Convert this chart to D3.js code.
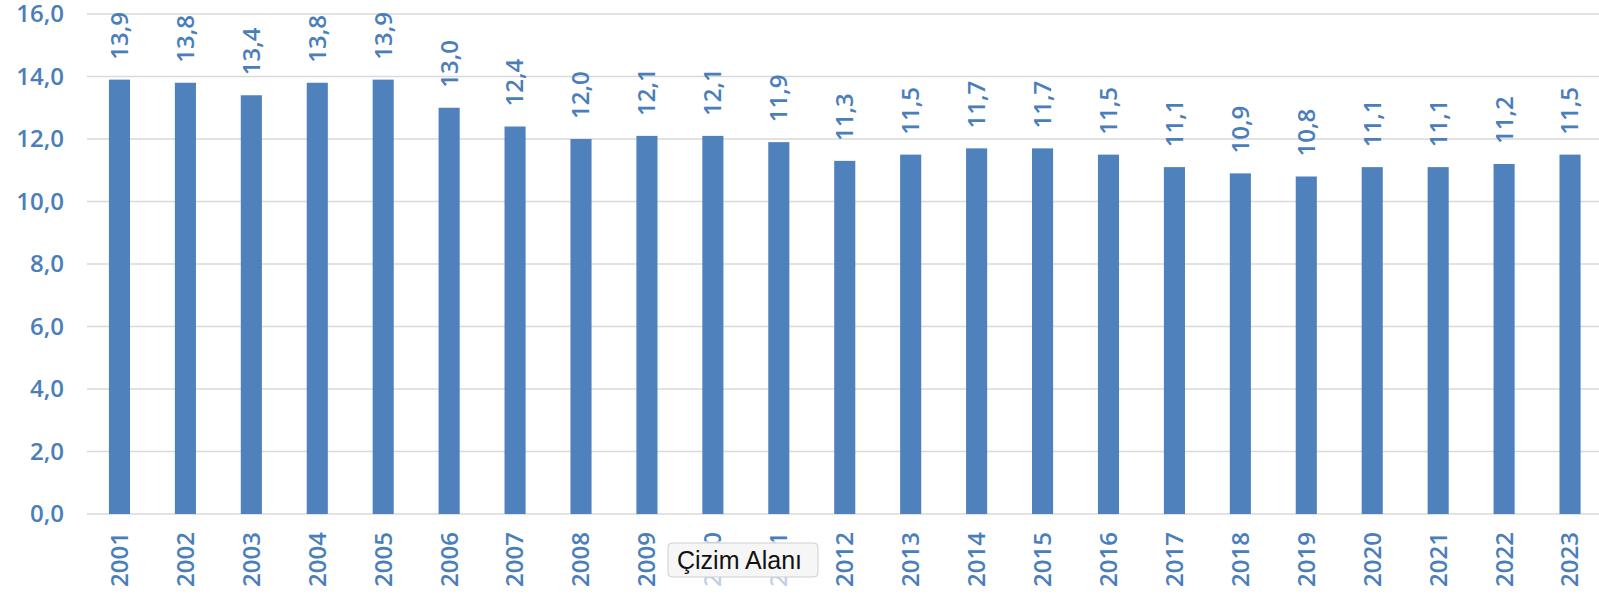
<!DOCTYPE html>
<html>
<head>
<meta charset="utf-8">
<script src="https://cdn.jsdelivr.net/npm/d3@7"></script>
<style>
  body { margin: 0; background: #fff; }
  svg { display: block; }
</style>
</head>
<body>
<div class="chart"></div>
<script>
// yıllar ve değerler
var years = ["2001","2002","2003","2004","2005","2006","2007","2008","2009","2010","2011","2012",
             "2013","2014","2015","2016","2017","2018","2019","2020","2021","2022","2023"];
var values = [13.9,13.8,13.4,13.8,13.9,13.0,12.4,12.0,12.1,12.1,11.9,11.3,
              11.5,11.7,11.7,11.5,11.1,10.9,10.8,11.1,11.1,11.2,11.5];
var yTicks = [0,2,4,6,8,10,12,14,16];

var width = 1599;
var height = 595;
var blue = '#4f81bd';
var labelBlue = '#4a7ebb';
var font = '"Open Sans", "Liberation Sans", sans-serif';

var svg = d3.select('div.chart')
    .append('svg')
    .attr('width', width)
    .attr('height', height);

var fmt = function(d){ return d3.format('.1f')(d).replace('.', ','); };

var x = d3.scaleBand()
    .domain(years)
    .range([86.5, 1603])
    .paddingInner(0.68)
    .paddingOuter(0.34);
var y = d3.scaleLinear()
    .domain([0, 16])
    .range([514, 14]);

// yatay çizgiler
svg.append('g')
    .selectAll('line')
    .data(yTicks)
    .enter()
    .append('line')
    .attr('x1', 87)
    .attr('x2', width)
    .attr('y1', d => y(d))
    .attr('y2', d => y(d))
    .attr('stroke', '#d9d9d9')
    .attr('stroke-width', 1.5);

// y ekseni
var yAxis = svg.append('g')
    .attr('transform', 'translate(64,0)')
    .call(d3.axisLeft(y).tickValues(yTicks).tickFormat(fmt).tickSize(0).tickPadding(0));
yAxis.select('.domain').remove();
yAxis.selectAll('text')
    .attr('fill', labelBlue)
    .attr('font-family', font)
    .attr('font-weight', 600)
    .attr('font-size', '24px');

// x ekseni
var xAxis = svg.append('g')
    .attr('transform', 'translate(0,' + y(0) + ')')
    .call(d3.axisBottom(x).tickSize(0).tickPadding(0));
xAxis.select('.domain').remove();
xAxis.selectAll('text')
    .attr('fill', labelBlue)
    .attr('font-family', font)
    .attr('font-weight', 600)
    .attr('font-size', '24px')
    .attr('transform', 'rotate(-90)')
    .attr('text-anchor', 'end')
    .attr('x', -18)
    .attr('y', 0)
    .attr('dy', '0.35em');

// çubuklar
svg.append('g')
    .selectAll('rect')
    .data(values)
    .enter()
    .append('rect')
    .attr('x', (d, i) => x(years[i]))
    .attr('y', d => y(d))
    .attr('width', x.bandwidth())
    .attr('height', d => y(0) - y(d))
    .attr('fill', blue);

// değer etiketleri
svg.append('g')
    .selectAll('text')
    .data(values)
    .enter()
    .append('text')
    .attr('transform', (d, i) => 'translate(' + (x(years[i]) + x.bandwidth() / 2) + ',' + (y(d) - 20) + ') rotate(-90)')
    .attr('dy', '0.35em')
    .attr('fill', labelBlue)
    .attr('font-family', font)
    .attr('font-weight', 600)
    .attr('font-size', '24px')
    .text(fmt);

// ipucu kutusu
var tip = svg.append('g');
tip.append('rect')
    .attr('x', 661).attr('y', 541).attr('width', 166).attr('height', 50)
    .attr('fill', '#fff').attr('opacity', 0.65);
tip.append('rect')
    .attr('x', 668).attr('y', 543).attr('width', 150).attr('height', 34)
    .attr('rx', 4)
    .attr('fill', '#f6f6f6')
    .attr('stroke', '#cfcfcf');
tip.append('text')
    .attr('x', 677).attr('y', 569)
    .attr('font-family', '"Liberation Sans", "DejaVu Sans", sans-serif')
    .attr('font-size', '25px')
    .attr('fill', '#111')
    .text('Çizim Alanı');
</script>
</body>
</html>
